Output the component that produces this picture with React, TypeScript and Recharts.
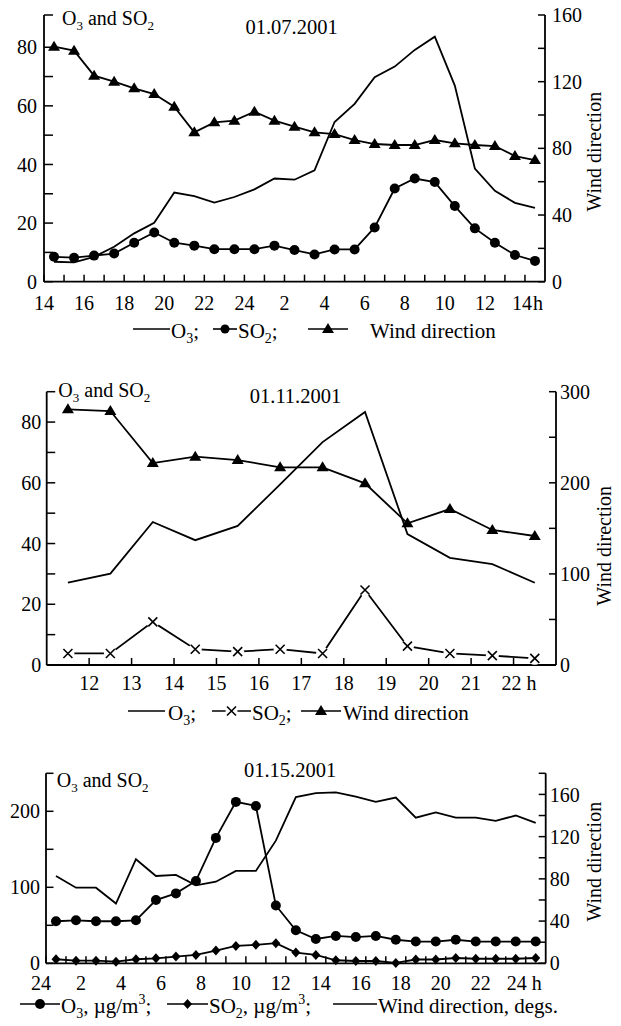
import React from 'react';
import { LineChart, Line, XAxis, YAxis, Customized } from 'recharts';

const FONT = '"Liberation Serif", "DejaVu Serif", serif';

// ---------- Panel 1: 01.07.2001 ----------
const hours1 = [14.5, 15.5, 16.5, 17.5, 18.5, 19.5, 20.5, 21.5, 22.5, 23.5, 24.5, 25.5, 26.5, 27.5, 28.5, 29.5, 30.5, 31.5, 32.5, 33.5, 34.5, 35.5, 36.5, 37.5, 38.5];
const o3_1 = [6.8, 6.6, 8.5, 11.9, 16.5, 20.1, 30.4, 29.2, 27.0, 28.9, 31.5, 35.2, 34.8, 38.0, 54.5, 60.7, 69.8, 73.4, 79.1, 83.6, 66.9, 38.6, 31.0, 26.9, 25.2];
const so2_1 = [8.5, 8.2, 8.9, 9.6, 13.3, 16.8, 13.3, 12.3, 11.1, 11.1, 11.1, 12.3, 10.8, 9.3, 11.0, 11.0, 18.5, 31.8, 35.2, 34.0, 25.8, 18.2, 13.3, 9.1, 7.1];
const wind_1 = [141, 138.6, 123.6, 120, 116, 112.6, 105, 89.6, 95.6, 96.6, 102, 96.6, 93, 89.6, 88.6, 85, 82.6, 82, 82, 85, 83, 82, 81.4, 75.4, 73];
const xTicks1 = [14, 15, 16, 17, 18, 19, 20, 21, 22, 23, 24, 25, 26, 27, 28, 29, 30, 31, 32, 33, 34, 35, 36, 37, 38];
const leftTicks1 = [0, 10, 20, 30, 40, 50, 60, 70, 80, 91];
const rightTicks1 = [0, 20, 40, 60, 80, 100, 120, 140, 160];

// ---------- Panel 2: 01.11.2001 ----------
const hours2 = [11.5, 12.5, 13.5, 14.5, 15.5, 16.5, 17.5, 18.5, 19.5, 20.5, 21.5, 22.5];
const o3_2 = [27.1, 30.1, 47.1, 41.1, 45.8, 59.5, 73.4, 83.3, 43.1, 35.3, 33.2, 27.1];
const so2_2 = [3.8, 3.8, 14.2, 5.2, 4.4, 5.2, 3.8, 24.7, 6.2, 3.8, 3.1, 2.2];
const wind_2 = [280.6, 278.8, 221.6, 228.7, 225, 217, 217, 199.4, 155.5, 171.2, 148.2, 141.6];
const xTicks2 = [12, 13, 14, 15, 16, 17, 18, 19, 20, 21, 22];
const leftTicks2 = [0, 10, 20, 30, 40, 50, 60, 70, 80, 90];
const rightTicks2 = [0, 50, 100, 150, 200, 250, 300];

// ---------- Panel 3: 01.15.2001 ----------
const hours3 = [0.5, 1.5, 2.5, 3.5, 4.5, 5.5, 6.5, 7.5, 8.5, 9.5, 10.5, 11.5, 12.5, 13.5, 14.5, 15.5, 16.5, 17.5, 18.5, 19.5, 20.5, 21.5, 22.5, 23.5, 24.5];
const o3_3 = [55.3, 56.6, 55.3, 55.3, 56.6, 83.2, 92, 108.4, 165, 212.4, 207, 76.1, 43.4, 32, 36, 34.5, 36, 31, 28.6, 28.6, 31, 28.6, 28.6, 28.6, 28.6];
const so2_3 = [5.3, 3.5, 3.5, 2.2, 5.3, 6.6, 8.8, 11, 16.7, 22.9, 24.3, 26.5, 14.1, 11, 4, 3, 3, 0.5, 5, 5, 7, 6, 6, 6, 7];
const wind_3 = [82.7, 71.6, 71.6, 56.6, 98.6, 82.7, 83.7, 73.8, 77.3, 87.5, 87.5, 116.2, 157.5, 161.3, 162, 158, 153, 157, 138, 143, 138, 138, 135, 140, 133];
const xTicks3 = [0, 1, 2, 3, 4, 5, 6, 7, 8, 9, 10, 11, 12, 13, 14, 15, 16, 17, 18, 19, 20, 21, 22, 23, 24];
const leftTicks3 = [0, 50, 100, 150, 200, 250];
const rightTicks3 = [0, 20, 40, 60, 80, 100, 120, 140, 160, 180];

const data1 = hours1.map((h, i) => ({ h, o3: o3_1[i], so2: so2_1[i], wind: wind_1[i] }));
const data2 = hours2.map((h, i) => ({ h, o3: o3_2[i], so2: so2_2[i], wind: wind_2[i] }));
const data3 = hours3.map((h, i) => ({ h, o3: o3_3[i], so2: so2_3[i], wind: wind_3[i] }));

const BLACK = '#000';
const LW = 1.8;

// ---------- markers ----------
const CircleDot = (p: any) => {
  if (p.cx == null || p.cy == null) return <g key={`c${p.index}`} />;
  return <circle key={`c${p.index}`} cx={p.cx} cy={p.cy} r={5} fill={BLACK} />;
};
const TriDot = (p: any) => {
  if (p.cx == null || p.cy == null) return <g key={`t${p.index}`} />;
  const { cx, cy } = p;
  return <path key={`t${p.index}`} d={`M${cx - 6},${cy + 4}L${cx + 6},${cy + 4}L${cx},${cy - 6}Z`} fill={BLACK} />;
};
const DiamondDot = (p: any) => {
  if (p.cx == null || p.cy == null) return <g key={`d${p.index}`} />;
  const { cx, cy } = p;
  return <path key={`d${p.index}`} d={`M${cx},${cy - 5}L${cx + 4.5},${cy}L${cx},${cy + 5}L${cx - 4.5},${cy}Z`} fill={BLACK} />;
};
const CrossDot = (p: any) => {
  if (p.cx == null || p.cy == null) return <g key={`x${p.index}`} />;
  const { cx, cy } = p;
  return (
    <g key={`x${p.index}`}>
      <circle cx={cx} cy={cy} r={6.5} fill="#fff" />
      <path d={`M${cx - 4.5},${cy - 4.5}L${cx + 4.5},${cy + 4.5}M${cx + 4.5},${cy - 4.5}L${cx - 4.5},${cy + 4.5}`} stroke={BLACK} strokeWidth={1.6} />
    </g>
  );
};

// ---------- x tick ----------
const makeXTick = (fmt: (v: number) => string, lastV: number, dx: number, lastDx: number, hOff: number) => (props: any) => {
  const { x, y, payload } = props;
  const v = payload.value;
  const s = fmt(v);
  if (!s) return <g />;
  const isLast = v === lastV;
  const xx = x + (isLast ? lastDx : dx);
  return (
    <g>
      <text x={xx} y={y} dy="0.71em" textAnchor="middle" fontSize={20} style={{ fontFamily: FONT }} fill={BLACK}>{s}</text>
      {isLast && (
        <text x={x + hOff} y={y} dy="0.71em" textAnchor="start" fontSize={20} style={{ fontFamily: FONT }} fill={BLACK}>h</text>
      )}
    </g>
  );
};

const fmtX1 = (v: number) => (v % 2 === 0 ? String(v <= 24 ? v : v - 24) : '');
const fmtX2 = (v: number) => String(v);
const fmtX3 = (v: number) => (v % 2 === 0 ? String(v === 0 ? 24 : v) : '');

const tickStyle = { fill: BLACK, fontSize: 20, style: { fontFamily: FONT } };
const axisLine = { stroke: BLACK, strokeWidth: 1.8 };
const tickLine = { stroke: BLACK, strokeWidth: 1.5 };

// ---------- text helpers ----------
const T = (props: any) => <text fill={BLACK} fontSize={20} style={{ fontFamily: FONT }} {...props} />;

const O3andSO2 = ({ x, y }: { x: number; y: number }) => (
  <T x={x} y={y}>
    O<tspan fontSize={13} dy={5}>3</tspan>
    <tspan dy={-5}> and SO</tspan>
    <tspan fontSize={13} dy={5}>2</tspan>
  </T>
);

const WindLabel = ({ x, y }: { x: number; y: number }) => (
  <T x={x} y={y} textAnchor="middle" transform={`rotate(-90, ${x}, ${y})`}>Wind direction</T>
);

const Overlay1 = () => (
  <g>
    <O3andSO2 x={62} y={25} />
    <T x={291.5} y={34} textAnchor="middle" fontSize={20.5}>01.07.2001</T>
    <WindLabel x={601} y={151.7} />
    <line x1={133} y1={329} x2={170} y2={329} stroke={BLACK} strokeWidth={1.6} />
    <T x={171} y={338} fontSize={21}>O<tspan fontSize={14} dy={5}>3</tspan><tspan dy={-5}>;</tspan></T>
    <line x1={213} y1={329} x2={237} y2={329} stroke={BLACK} strokeWidth={1.6} />
    <circle cx={225} cy={329} r={4.5} fill={BLACK} />
    <T x={238} y={338} fontSize={21}>SO<tspan fontSize={14} dy={5}>2</tspan><tspan dy={-5}>;</tspan></T>
    <line x1={308} y1={329} x2={348} y2={329} stroke={BLACK} strokeWidth={1.6} />
    <path d="M322,333L334,333L328,323Z" fill={BLACK} />
    <T x={370} y={338} fontSize={21}>Wind direction</T>
  </g>
);

const Overlay2 = () => (
  <g>
    <O3andSO2 x={58.3} y={37} />
    <T x={295.5} y={43} textAnchor="middle" fontSize={20.5}>01.11.2001</T>
    <WindLabel x={611} y={185.8} />
    <line x1={128} y1={351} x2={165} y2={351} stroke={BLACK} strokeWidth={1.6} />
    <T x={168} y={360} fontSize={21}>O<tspan fontSize={14} dy={5}>3</tspan><tspan dy={-5}>;</tspan></T>
    <line x1={212} y1={351} x2={251} y2={351} stroke={BLACK} strokeWidth={1.6} />
    <circle cx={231.5} cy={351} r={6} fill="#fff" />
    <path d="M227,346.5L236,355.5M236,346.5L227,355.5" stroke={BLACK} strokeWidth={1.6} />
    <T x={252} y={360} fontSize={21}>SO<tspan fontSize={14} dy={5}>2</tspan><tspan dy={-5}>;</tspan></T>
    <line x1={301} y1={351} x2={341} y2={351} stroke={BLACK} strokeWidth={1.6} />
    <path d="M315,355L327,355L321,345Z" fill={BLACK} />
    <T x={343} y={360} fontSize={21}>Wind direction</T>
  </g>
);

const Overlay3 = () => (
  <g>
    <O3andSO2 x={56.7} y={47} />
    <T x={290} y={37} textAnchor="middle" fontSize={20.5}>01.15.2001</T>
    <WindLabel x={601} y={121.7} />
    <line x1={20} y1={264} x2={60} y2={264} stroke={BLACK} strokeWidth={1.6} />
    <circle cx={40} cy={264} r={5} fill={BLACK} />
    <T x={61} y={273} fontSize={21}>O<tspan fontSize={14} dy={5}>3</tspan><tspan dy={-5}>, µg/m</tspan><tspan fontSize={14} dy={-9}>3</tspan><tspan dy={9}>;</tspan></T>
    <line x1={167} y1={264} x2={208} y2={264} stroke={BLACK} strokeWidth={1.6} />
    <path d="M187.5,259L192,264L187.5,269L183,264Z" fill={BLACK} />
    <T x={209} y={273} fontSize={21}>SO<tspan fontSize={14} dy={5}>2</tspan><tspan dy={-5}>, µg/m</tspan><tspan fontSize={14} dy={-9}>3</tspan><tspan dy={9}>;</tspan></T>
    <line x1={333} y1={264} x2={377} y2={264} stroke={BLACK} strokeWidth={1.6} />
    <T x={378} y={273} fontSize={21}>Wind direction, degs.</T>
  </g>
);

const YW = 40;
const XH = 30;

export default function App() {
  return (
    <div style={{ position: 'absolute', left: 0, top: 0, width: 621, height: 1026, background: '#fff', fontFamily: FONT }}>
      <div style={{ position: 'absolute', left: 0, top: 0 }}>
        <LineChart width={621} height={350} data={data1} style={{ fontFamily: FONT }} margin={{ top: 15, left: 44 - YW, right: 621 - 545 - YW, bottom: 350 - 281.7 - XH }}>
          <XAxis dataKey="h" type="number" domain={[14, 39]} ticks={xTicks1} interval={0} height={XH}
            axisLine={axisLine} tickLine={tickLine} tickSize={-7} tickMargin={21}
            tick={makeXTick(fmtX1, 38, 0, -3, 8)} />
          <YAxis yAxisId="left" orientation="left" width={YW} domain={[0, 91]} ticks={leftTicks1} interval={0}
            axisLine={axisLine} tickLine={tickLine} tickSize={-9} tickMargin={16} tick={tickStyle}
            tickFormatter={(v: number) => (v % 20 === 0 && v <= 80 ? String(v) : '')} />
          <YAxis yAxisId="right" orientation="right" width={YW} domain={[0, 160]} ticks={rightTicks1} interval={0}
            axisLine={axisLine} tickLine={tickLine} tickSize={-7} tickMargin={14} tick={tickStyle}
            tickFormatter={(v: number) => (v % 40 === 0 ? String(v) : '')} />
          <Line yAxisId="left" type="linear" dataKey="o3" stroke={BLACK} strokeWidth={LW} dot={false} activeDot={false} isAnimationActive={false} />
          <Line yAxisId="left" type="linear" dataKey="so2" stroke={BLACK} strokeWidth={LW} dot={CircleDot} activeDot={false} isAnimationActive={false} />
          <Line yAxisId="right" type="linear" dataKey="wind" stroke={BLACK} strokeWidth={LW} dot={TriDot} activeDot={false} isAnimationActive={false} />
          <Customized component={Overlay1} />
        </LineChart>
      </div>

      <div style={{ position: 'absolute', left: 0, top: 360 }}>
        <LineChart width={621} height={370} data={data2} style={{ fontFamily: FONT }} margin={{ top: 31.7, left: 46.7 - YW, right: 621 - 556 - YW, bottom: 370 - 305 - XH }}>
          <XAxis dataKey="h" type="number" domain={[11, 23]} ticks={xTicks2} interval={0} height={XH}
            axisLine={axisLine} tickLine={tickLine} tickSize={-7} tickMargin={18}
            tick={makeXTick(fmtX2, 22, 0, -2, 13)} />
          <YAxis yAxisId="left" orientation="left" width={YW} domain={[0, 90]} ticks={leftTicks2} interval={0}
            axisLine={axisLine} tickLine={tickLine} tickSize={-8.5} tickMargin={14} tick={tickStyle}
            tickFormatter={(v: number) => (v % 20 === 0 && v <= 80 ? String(v) : '')} />
          <YAxis yAxisId="right" orientation="right" width={YW} domain={[0, 300]} ticks={rightTicks2} interval={0}
            axisLine={axisLine} tickLine={tickLine} tickSize={-7} tickMargin={11} tick={tickStyle}
            tickFormatter={(v: number) => (v % 100 === 0 ? String(v) : '')} />
          <Line yAxisId="left" type="linear" dataKey="o3" stroke={BLACK} strokeWidth={LW} dot={false} activeDot={false} isAnimationActive={false} />
          <Line yAxisId="right" type="linear" dataKey="wind" stroke={BLACK} strokeWidth={LW} dot={TriDot} activeDot={false} isAnimationActive={false} />
          <Line yAxisId="left" type="linear" dataKey="so2" stroke={BLACK} strokeWidth={LW} dot={CrossDot} activeDot={false} isAnimationActive={false} />
          <Customized component={Overlay2} />
        </LineChart>
      </div>

      <div style={{ position: 'absolute', left: 0, top: 740 }}>
        <LineChart width={621} height={286} data={data3} style={{ fontFamily: FONT }} margin={{ top: 33.3, left: 46 - YW, right: 621 - 545.7 - YW, bottom: 286 - 223.3 - XH }}>
          <XAxis dataKey="h" type="number" domain={[0, 25]} ticks={xTicks3} interval={0} height={XH}
            axisLine={axisLine} tickLine={tickLine} tickSize={-7} tickMargin={19.5}
            tick={makeXTick(fmtX3, 24, -5, -9, 6)} />
          <YAxis yAxisId="left" orientation="left" width={YW} domain={[0, 250]} ticks={leftTicks3} interval={0}
            axisLine={axisLine} tickLine={tickLine} tickSize={-7.5} tickMargin={13.5} tick={tickStyle}
            tickFormatter={(v: number) => (v % 100 === 0 ? String(v) : '')} />
          <YAxis yAxisId="right" orientation="right" width={YW} domain={[0, 180]} ticks={rightTicks3} interval={0}
            axisLine={axisLine} tickLine={tickLine} tickSize={-7} tickMargin={11} tick={tickStyle}
            tickFormatter={(v: number) => (v % 40 === 0 ? String(v) : '')} />
          <Line yAxisId="right" type="linear" dataKey="wind" stroke={BLACK} strokeWidth={LW} dot={false} activeDot={false} isAnimationActive={false} />
          <Line yAxisId="left" type="linear" dataKey="o3" stroke={BLACK} strokeWidth={LW} dot={CircleDot} activeDot={false} isAnimationActive={false} />
          <Line yAxisId="left" type="linear" dataKey="so2" stroke={BLACK} strokeWidth={LW} dot={DiamondDot} activeDot={false} isAnimationActive={false} />
          <Customized component={Overlay3} />
        </LineChart>
      </div>
    </div>
  );
}
